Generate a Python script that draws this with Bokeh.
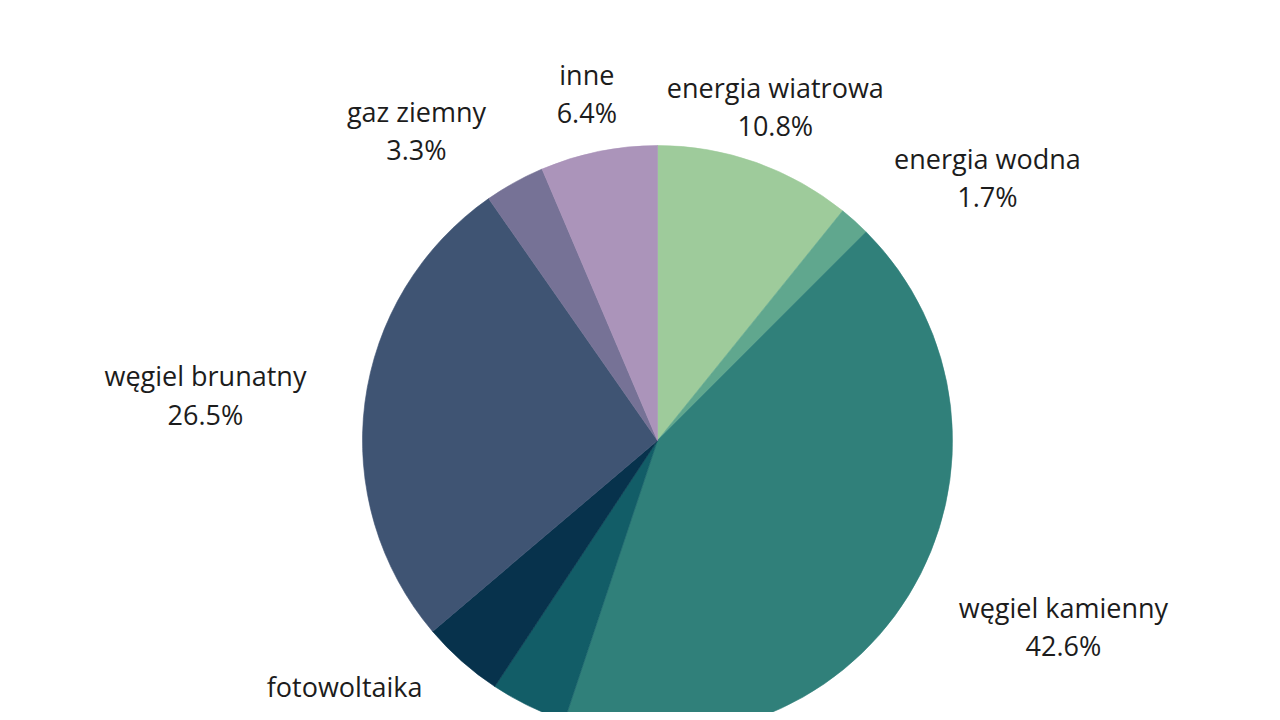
import math
from bokeh.plotting import figure
from bokeh.models import ColumnDataSource, Range1d
from bokeh.core.properties import value
from bokeh.embed import file_html
from bokeh.resources import INLINE

# ---- data ----
categories = ["energia wiatrowa", "energia wodna", "węgiel kamienny", "biomasa",
              "fotowoltaika", "węgiel brunatny", "gaz ziemny", "inne"]
shares = [10.8, 1.7, 42.6, 4.2, 4.5, 26.5, 3.3, 6.4]
colors = ["#9ecb9b", "#60a78e", "#30807a", "#125d67",
          "#07324c", "#3f5473", "#767296", "#ab94ba"]

# ---- layout constants ----
W, H = 1264, 712
R = 295            # pie radius (px == data units)
LABEL_R = 1.2 * R  # label anchor radius
X0, X1 = -657, 607
Y0, Y1 = -272, 440

total = sum(shares)
starts, ends, mids = [], [], []
acc = 0.0
for s in shares:
    t1 = acc / total * 2 * math.pi          # clockwise from 12 o'clock
    acc += s
    t2 = acc / total * 2 * math.pi
    starts.append(math.pi / 2 - t2)
    ends.append(math.pi / 2 - t1)
    mids.append((t1 + t2) / 2)

src = ColumnDataSource(dict(cat=categories, share=shares, color=colors,
                            start=starts, end=ends))

p = figure(width=W, height=H, x_range=Range1d(X0, X1), y_range=Range1d(Y0, Y1),
           output_backend="svg", toolbar_location=None, min_border=0,
           x_axis_location=None, y_axis_location=None)
p.grid.visible = False
p.outline_line_color = None
p.background_fill_color = "white"
p.border_fill_color = "white"

p.wedge(x=0, y=0, radius=R, start_angle="start", end_angle="end",
        direction="anticlock", fill_color="color", line_color="color",
        line_width=0.6, source=src)

groups = {"center_left": dict(x=[], y=[], text=[]),
          "center": dict(x=[], y=[], text=[]),
          "center_right": dict(x=[], y=[], text=[])}
for cat, s, th in zip(categories, shares, mids):
    x = LABEL_R * math.sin(th)
    y = LABEL_R * math.cos(th)
    if y < Y0 - 30 or y > Y1:
        continue
    sn = math.sin(th)
    anchor = "center_left" if sn > 0.4 else ("center_right" if sn < -0.4 else "center")
    g = groups[anchor]
    g["x"].append(x)
    g["y"].append(y)
    g["text"].append(f"{cat}\n{s:.1f}%")

for anchor, g in groups.items():
    if not g["x"]:
        continue
    p.text(x="x", y="y", text="text", anchor=anchor, text_align="center",
           text_baseline="middle",
           text_font=value("Open Sans"), text_font_size="27px",
           text_color="#1c1c1c", text_line_height=1.03,
           source=ColumnDataSource(g))

open("out.html", "w").write(file_html(p, INLINE))
